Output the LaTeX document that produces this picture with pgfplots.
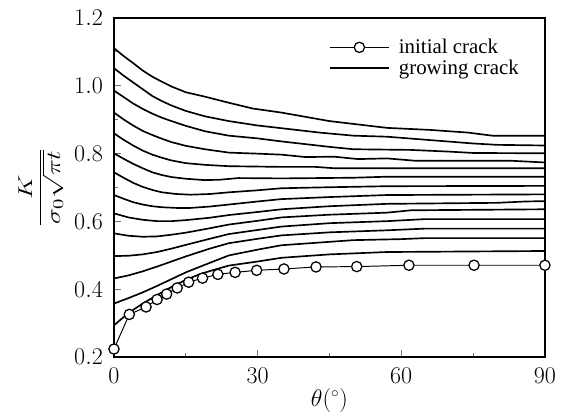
\documentclass[border=0pt]{standalone}
\usepackage{fontspec}
\setmainfont{Liberation Serif}
\usepackage{pgfplots}
\pgfplotsset{compat=1.18}
\pgfplotsset{
    grow/.style={black, line width=1.2pt, no markers},
    init/.style={black, line width=0.7pt, mark=*, mark size=3.7pt,
        mark options={fill=white, draw=black, line width=0.9pt}},
}
\begin{document}
\begin{tikzpicture}
\begin{axis}[
    width=310pt, height=244pt, scale only axis,
    xmin=0, xmax=90, ymin=0.2, ymax=1.2,
    xtick={0,30,60,90}, minor xtick={15,45,75},
    ytick={0.2,0.4,0.6,0.8,1.0,1.2}, minor ytick={0.3,0.5,0.7,0.9,1.1},
    tick pos=left, tick align=inside,
    major tick length=5pt, minor tick length=3pt,
    tick style={black!55, line width=0.6pt},
    axis line style={line width=1.1pt},
    yticklabel style={/pgf/number format/fixed, /pgf/number format/fixed zerofill,
        /pgf/number format/precision=1, xshift=-4.5pt},
    xticklabel style={yshift=-4pt},
    ticklabel style={font=\fontsize{16.5}{19}\selectfont},
    xlabel={$\theta(^\circ)$},
    xlabel style={font=\fontsize{16}{19}\selectfont, yshift=3pt},
    ylabel={\scalebox{1.35}[1.0]{$\displaystyle\frac{K}{\sigma_0\sqrt{\pi t}}$}},
    ylabel style={font=\fontsize{15}{18}\selectfont, yshift=1pt},
    legend style={draw=none, fill=none, at={(0.49,0.955)}, anchor=north west,
        font=\fontsize{15}{18}\selectfont, row sep=-1pt,
        /tikz/every odd column/.append style={column sep=5pt}},
    legend cell align=left,
    legend image code/.code={\draw[mark repeat=2, mark phase=2, #1]
        plot coordinates {(0pt,0pt) (21pt,0pt) (42pt,0pt)};},
    clip=false,
]
\addlegendimage{init}
\addlegendentry{initial crack}
\addlegendimage{black, line width=0.9pt}
\addlegendentry{growing crack}

% growing crack, from top to bottom
\addplot[grow] coordinates {(0,1.111)(2,1.088)(4,1.067)(6,1.045)(8,1.027)(10,1.012)(12,0.998)(15,0.981)(19,0.968)(24,0.950)(29,0.933)(35,0.921)(45,0.896)(57,0.876)(66,0.870)(74,0.862)(79,0.853)(90,0.853)};
\addplot[grow] coordinates {(0,1.052)(2,1.030)(4,1.010)(6,0.990)(8,0.970)(10,0.955)(12,0.942)(15,0.926)(19,0.910)(24,0.896)(30,0.883)(35,0.875)(43,0.862)(50,0.853)(57,0.850)(66,0.840)(75,0.830)(80,0.826)(90,0.824)};
\addplot[grow] coordinates {(0,0.986)(2,0.967)(4,0.948)(6,0.932)(8,0.918)(10,0.906)(12,0.896)(15,0.882)(19,0.866)(24,0.853)(30,0.845)(35,0.836)(45,0.820)(50,0.813)(62,0.811)(70,0.806)(75,0.802)(90,0.801)};
\addplot[grow] coordinates {(0,0.921)(2,0.901)(4,0.883)(6,0.867)(8,0.855)(10,0.844)(12,0.834)(15,0.823)(19,0.813)(24,0.803)(30,0.800)(35,0.797)(40,0.790)(46,0.791)(51,0.784)(57,0.786)(63,0.779)(83,0.779)(90,0.774)};
\addplot[grow] coordinates {(0,0.860)(2,0.841)(4,0.824)(6,0.809)(8,0.797)(10,0.788)(12,0.780)(15,0.772)(19,0.767)(24,0.763)(35,0.761)(42,0.761)(46,0.757)(90,0.757)};
\addplot[grow] coordinates {(0,0.801)(2,0.785)(4,0.770)(6,0.757)(8,0.745)(10,0.737)(12,0.731)(15,0.726)(19,0.722)(22,0.723)(26,0.728)(35,0.727)(50,0.729)(57,0.732)(90,0.732)};
\addplot[grow] coordinates {(0,0.745)(2,0.729)(4,0.714)(6,0.702)(8,0.693)(10,0.686)(13,0.681)(16,0.679)(20,0.681)(24,0.686)(30,0.692)(35,0.698)(45,0.701)(57,0.704)(90,0.705)};
\addplot[grow] coordinates {(0,0.678)(2,0.667)(4,0.657)(6,0.650)(8,0.645)(10,0.642)(13,0.640)(16,0.640)(20,0.644)(24,0.650)(30,0.659)(35,0.666)(45,0.672)(57,0.678)(90,0.680)};
\addplot[grow] coordinates {(0,0.624)(3,0.612)(6,0.605)(9,0.601)(12,0.601)(15,0.604)(20,0.611)(24,0.619)(30,0.628)(35,0.636)(45,0.645)(57,0.652)(80,0.655)(86,0.659)(90,0.660)};
\addplot[grow] coordinates {(0,0.565)(3,0.558)(6,0.555)(9,0.556)(12,0.561)(15,0.567)(20,0.580)(24,0.591)(30,0.602)(35,0.612)(45,0.620)(57,0.626)(62,0.633)(90,0.636)};
\addplot[grow] coordinates {(0,0.498)(3,0.499)(6,0.503)(9,0.510)(12,0.520)(15,0.531)(20,0.549)(24,0.563)(30,0.575)(35,0.585)(45,0.595)(57,0.601)(65,0.607)(90,0.607)};
\addplot[grow] coordinates {(0,0.432)(3,0.441)(6,0.453)(9,0.467)(12,0.482)(15,0.497)(20,0.520)(24,0.536)(30,0.549)(35,0.559)(45,0.568)(57,0.574)(65,0.579)(90,0.579)};
\addplot[grow] coordinates {(0,0.358)(3,0.374)(6,0.391)(9,0.410)(12,0.430)(15,0.450)(20,0.478)(24,0.500)(30,0.517)(35,0.530)(45,0.540)(50,0.545)(60,0.548)(65,0.551)(90,0.551)};
\addplot[grow] coordinates {(0,0.294)(3,0.330)(6,0.358)(9,0.383)(12,0.407)(15,0.428)(18,0.445)(21,0.458)(24,0.470)(30,0.482)(35,0.493)(45,0.503)(57,0.510)(90,0.513)};

% initial crack
\addplot[init] coordinates {(0,0.224)(3.2,0.326)(6.7,0.348)(9,0.370)(11,0.386)(13.2,0.404)(15.6,0.421)(18.5,0.433)(21.7,0.444)(25.3,0.450)(29.8,0.456)(35.5,0.460)(42.2,0.466)(50.7,0.467)(61.6,0.471)(75.2,0.471)(90,0.471)};

\path (rel axis cs:-0.2645,-0.168) rectangle (rel axis cs:1.042,1.053);
\end{axis}
\end{tikzpicture}
\end{document}
